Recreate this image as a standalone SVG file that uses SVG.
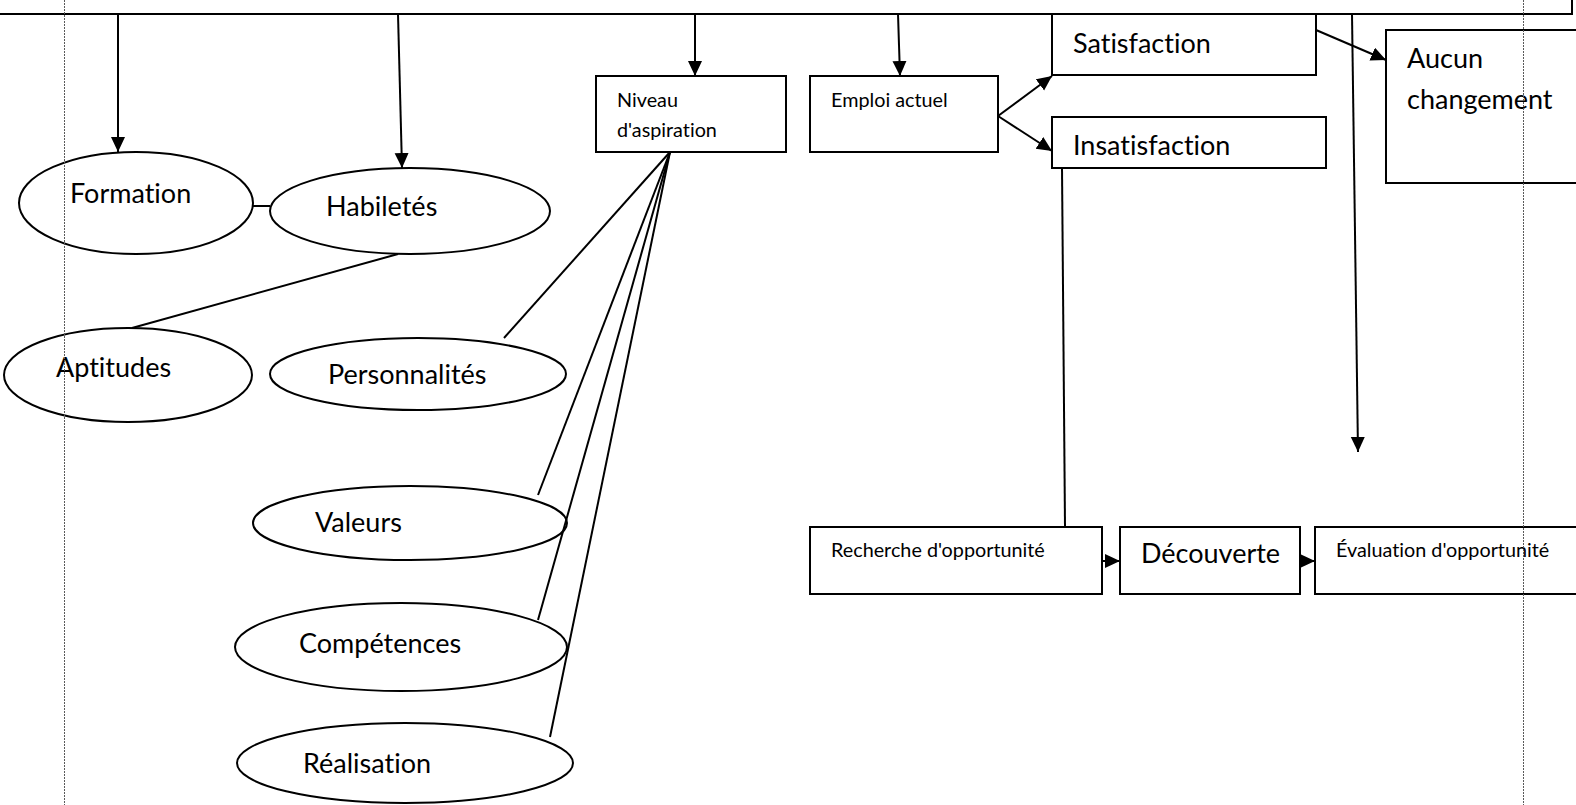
<svg xmlns="http://www.w3.org/2000/svg" width="1576" height="805" viewBox="0 0 1576 805">
  <style>
    .box { fill: #ffffff; stroke: #000000; stroke-width: 2; }
    .oval { fill: #ffffff; stroke: #000000; stroke-width: 2; }
    text { font-variant-ligatures: none; font-feature-settings: "liga" 0, "clig" 0; }
    .big { font-family: Lato, "Liberation Sans", sans-serif; font-size: 27px; fill: #000000; }
    .small { font-family: Lato, "Liberation Sans", sans-serif; font-size: 19.8px; fill: #000000; }
    .link { fill: none; stroke: #000000; stroke-width: 2; }
    .arrow { fill: none; stroke: #000000; stroke-width: 2; marker-end: url(#head); }
    .guide { fill: none; stroke: #5a5a5a; stroke-width: 1; stroke-dasharray: 2 1; }
  </style>
  <defs>
    <marker id="head" markerUnits="userSpaceOnUse" markerWidth="16" markerHeight="15" refX="15" refY="7" orient="auto">
      <path d="M0,0 L15,7 L0,14 z" fill="#000000"/>
    </marker>
  </defs>

  <rect width="1576" height="805" fill="#ffffff"/>

  <!-- header band along the top edge -->
  <g id="header">
    <rect class="box" x="-10" y="-30" width="1582" height="44"/>
  </g>

  <!-- nodes -->
  <g id="formation">
    <ellipse class="oval" cx="136" cy="203" rx="117" ry="51"/>
    <text class="big" x="70" y="203">Formation</text>
  </g>
  <g id="habiletes">
    <ellipse class="oval" cx="410" cy="211" rx="140" ry="43"/>
    <text class="big" x="326" y="216">Habiletés</text>
  </g>
  <g id="aptitudes">
    <ellipse class="oval" cx="128" cy="375" rx="124" ry="47"/>
    <text class="big" x="56" y="377">Aptitudes</text>
  </g>
  <g id="personnalites">
    <ellipse class="oval" cx="418" cy="374" rx="148" ry="36"/>
    <text class="big" x="328" y="384">Personnalités</text>
  </g>
  <g id="valeurs">
    <ellipse class="oval" cx="410" cy="523" rx="157" ry="37"/>
    <text class="big" x="315" y="532">Valeurs</text>
  </g>
  <g id="competences">
    <ellipse class="oval" cx="401" cy="647" rx="166" ry="44"/>
    <text class="big" x="299" y="653">Compétences</text>
  </g>
  <g id="realisation">
    <ellipse class="oval" cx="405" cy="763" rx="168" ry="40"/>
    <text class="big" x="303" y="773">Réalisation</text>
  </g>
  <g id="niveau">
    <rect class="box" x="596" y="76" width="190" height="76"/>
    <text class="small" x="617" y="107">Niveau</text>
    <text class="small" x="617" y="137">d'aspiration</text>
  </g>
  <g id="emploi">
    <rect class="box" x="810" y="76" width="188" height="76"/>
    <text class="small" x="831" y="107">Emploi actuel</text>
  </g>
  <g id="satisfaction">
    <rect class="box" x="1052" y="14" width="264" height="61"/>
    <text class="big" x="1073" y="53">Satisfaction</text>
  </g>
  <g id="insatisfaction">
    <rect class="box" x="1052" y="117" width="274" height="51"/>
    <text class="big" x="1073" y="155">Insatisfaction</text>
  </g>
  <g id="aucun">
    <rect class="box" x="1386" y="30" width="200" height="153"/>
    <text class="big" x="1407" y="68">Aucun</text>
    <text class="big" x="1407" y="109">changement</text>
  </g>
  <g id="recherche">
    <rect class="box" x="810" y="527" width="292" height="67"/>
    <text class="small" x="831" y="557">Recherche d'opportunité</text>
  </g>
  <g id="decouverte">
    <rect class="box" x="1120" y="527" width="180" height="67"/>
    <text class="big" x="1141" y="563">Découverte</text>
  </g>
  <g id="evaluation">
    <rect class="box" x="1315" y="527" width="271" height="67"/>
    <text class="small" x="1336" y="557">Évaluation d'opportunité</text>
  </g>

  <!-- connectors -->
  <g id="connectors">
    <line class="arrow" x1="118" y1="14" x2="118" y2="152"/>
    <line class="arrow" x1="398" y1="14" x2="402" y2="168"/>
    <line class="arrow" x1="695" y1="14" x2="695" y2="76"/>
    <line class="arrow" x1="898" y1="14" x2="900" y2="76"/>
    <line class="arrow" x1="1352" y1="14" x2="1358" y2="452"/>
    <line class="link" x1="253" y1="206" x2="270" y2="206"/>
    <line class="link" x1="398" y1="254" x2="132" y2="328"/>
    <line class="link" x1="670" y1="152" x2="504" y2="338"/>
    <line class="link" x1="670" y1="152" x2="538" y2="495"/>
    <line class="link" x1="670" y1="152" x2="538" y2="620"/>
    <line class="link" x1="670" y1="152" x2="550" y2="737"/>
    <line class="arrow" x1="998" y1="116" x2="1052" y2="76"/>
    <line class="arrow" x1="998" y1="116" x2="1052" y2="151"/>
    <line class="arrow" x1="1316" y1="30" x2="1386" y2="60"/>
    <line class="link" x1="1062" y1="168" x2="1065" y2="527"/>
    <line class="arrow" x1="1103" y1="561" x2="1120" y2="561"/>
    <line class="arrow" x1="1300" y1="561" x2="1315" y2="561"/>
  </g>

  <!-- margin guides -->
  <g id="guides">
    <line class="guide" x1="64.5" y1="0" x2="64.5" y2="805"/>
    <line class="guide" x1="1523.5" y1="0" x2="1523.5" y2="805"/>
  </g>
</svg>
